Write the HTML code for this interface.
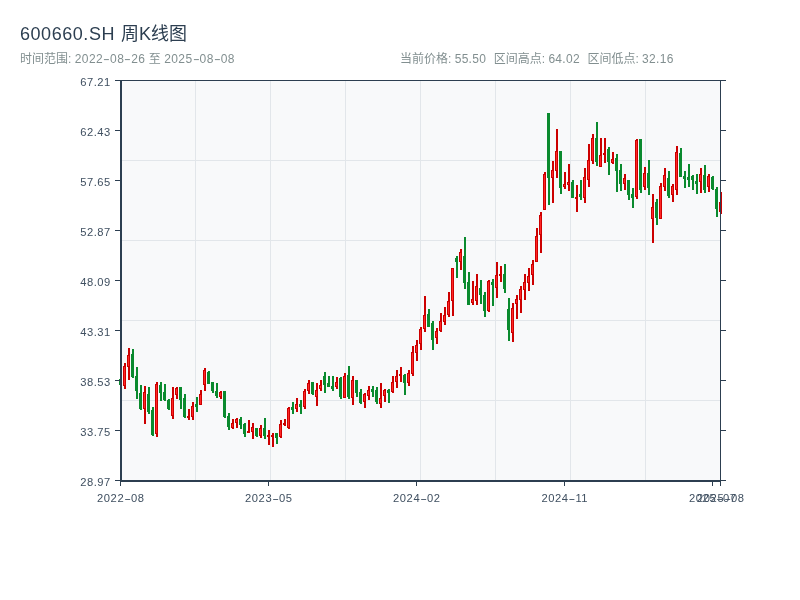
<!DOCTYPE html>
<html lang="zh"><head><meta charset="utf-8"><title>600660.SH 周K线图</title>
<style>
html,body{margin:0;padding:0;background:#fff;}
body{width:800px;height:600px;overflow:hidden;position:relative;font-family:"Liberation Sans","Noto Sans CJK SC",sans-serif;}
.title{position:absolute;left:20px;top:22px;font-size:18px;line-height:24px;color:#2c3e50;white-space:nowrap;}
.title .l{letter-spacing:0.55px;margin-right:1px;}
.sub{position:absolute;left:20px;top:51px;font-size:12px;line-height:16px;color:#828f90;white-space:nowrap;}
.sub .l{letter-spacing:0.45px;}
.sub .h{display:inline-block;width:6.9px;text-align:center;transform:scaleX(1.7);letter-spacing:0;}
.stats{position:absolute;left:400px;top:51px;font-size:12px;line-height:16px;color:#828f90;white-space:nowrap;}
.stats span{margin-right:7.5px;}
.stats span i{font-style:normal;letter-spacing:0.3px;margin-right:0;}
svg{position:absolute;left:0;top:0;}
svg text{font-family:"Liberation Sans","Noto Sans CJK SC",sans-serif;font-size:11.2px;fill:#3f4f60;letter-spacing:0.5px;}
svg text.x{letter-spacing:0.55px;}
svg text .hy{letter-spacing:0;}
</style></head><body>
<div class="title"><span class="l">600660.SH</span> 周K线图</div>
<div class="sub">时间范围: <span class="l">2022<span class="h">-</span>08<span class="h">-</span>26</span> 至 <span class="l">2025<span class="h">-</span>08<span class="h">-</span>08</span></div>
<div class="stats"><span>当前价格: <i>55.50</i></span><span>区间高点: <i>64.02</i></span><span>区间低点: <i>32.16</i></span></div>
<svg width="800" height="600" viewBox="0 0 800 600" shape-rendering="crispEdges">
<rect x="121" y="81" width="600" height="400" fill="#f8f9fa"/>
<rect x="195" y="81" width="1" height="399" fill="#e2e6ea"/>
<rect x="270" y="81" width="1" height="399" fill="#e2e6ea"/>
<rect x="345" y="81" width="1" height="399" fill="#e2e6ea"/>
<rect x="420" y="81" width="1" height="399" fill="#e2e6ea"/>
<rect x="495" y="81" width="1" height="399" fill="#e2e6ea"/>
<rect x="570" y="81" width="1" height="399" fill="#e2e6ea"/>
<rect x="645" y="81" width="1" height="399" fill="#e2e6ea"/>
<rect x="122" y="160" width="598" height="1" fill="#e2e6ea"/>
<rect x="122" y="240" width="598" height="1" fill="#e2e6ea"/>
<rect x="122" y="320" width="598" height="1" fill="#e2e6ea"/>
<rect x="122" y="400" width="598" height="1" fill="#e2e6ea"/>
<g>
<rect x="120" y="378" width="2" height="8" fill="#0a8a2e"/>
<rect x="119" y="379" width="3" height="6" fill="#0a8a2e"/>
<rect x="124" y="363" width="2" height="26" fill="#cc0000"/>
<rect x="123" y="366.2" width="3" height="19.3" fill="#cc0000"/>
<rect x="124" y="367.2" width="1" height="17.3" fill="#ff2626"/>
<rect x="128" y="348" width="2" height="32" fill="#cc0000"/>
<rect x="127" y="355" width="3" height="12" fill="#cc0000"/>
<rect x="128" y="356" width="1" height="10" fill="#ff2626"/>
<rect x="132" y="349" width="2" height="29" fill="#0a8a2e"/>
<rect x="131" y="354" width="3" height="23" fill="#0a8a2e"/>
<rect x="136" y="367" width="2" height="32" fill="#0a8a2e"/>
<rect x="135" y="376.2" width="3" height="14.8" fill="#0a8a2e"/>
<rect x="140" y="385" width="2" height="25" fill="#0a8a2e"/>
<rect x="139" y="393" width="3" height="16" fill="#0a8a2e"/>
<rect x="144" y="386" width="2" height="38" fill="#cc0000"/>
<rect x="143" y="392" width="3" height="16.5" fill="#cc0000"/>
<rect x="144" y="393" width="1" height="14.5" fill="#ff2626"/>
<rect x="148" y="387" width="2" height="27" fill="#0a8a2e"/>
<rect x="147" y="394" width="3" height="18" fill="#0a8a2e"/>
<rect x="152" y="407" width="2" height="29" fill="#0a8a2e"/>
<rect x="151" y="410" width="3" height="24.5" fill="#0a8a2e"/>
<rect x="156" y="382" width="2" height="55" fill="#cc0000"/>
<rect x="155" y="384.2" width="3" height="49.8" fill="#cc0000"/>
<rect x="156" y="385.2" width="1" height="47.8" fill="#ff2626"/>
<rect x="160" y="382" width="2" height="19" fill="#0a8a2e"/>
<rect x="159" y="385" width="3" height="8" fill="#0a8a2e"/>
<rect x="164" y="384" width="2" height="17" fill="#0a8a2e"/>
<rect x="163" y="392" width="3" height="8" fill="#0a8a2e"/>
<rect x="168" y="399" width="2" height="11" fill="#0a8a2e"/>
<rect x="167" y="400" width="3" height="9" fill="#0a8a2e"/>
<rect x="172" y="387" width="2" height="32" fill="#cc0000"/>
<rect x="171" y="398" width="3" height="17.5" fill="#cc0000"/>
<rect x="172" y="399" width="1" height="15.5" fill="#ff2626"/>
<rect x="176" y="387" width="2" height="12" fill="#cc0000"/>
<rect x="175" y="387.5" width="3" height="7" fill="#cc0000"/>
<rect x="176" y="388.5" width="1" height="5" fill="#ff2626"/>
<rect x="180" y="387" width="2" height="22" fill="#0a8a2e"/>
<rect x="179" y="387.2" width="3" height="12.8" fill="#0a8a2e"/>
<rect x="184" y="394" width="2" height="24" fill="#0a8a2e"/>
<rect x="183" y="398" width="3" height="19" fill="#0a8a2e"/>
<rect x="188" y="409" width="2" height="11" fill="#cc0000"/>
<rect x="187" y="416" width="3" height="2" fill="#cc0000"/>
<rect x="192" y="402" width="2" height="18" fill="#cc0000"/>
<rect x="191" y="406" width="3" height="10.5" fill="#cc0000"/>
<rect x="192" y="407" width="1" height="8.5" fill="#ff2626"/>
<rect x="196" y="397" width="2" height="15" fill="#0a8a2e"/>
<rect x="195" y="404.2" width="3" height="2.8" fill="#0a8a2e"/>
<rect x="200" y="390" width="2" height="15" fill="#cc0000"/>
<rect x="199" y="394" width="3" height="10.5" fill="#cc0000"/>
<rect x="200" y="395" width="1" height="8.5" fill="#ff2626"/>
<rect x="204" y="368" width="2" height="23" fill="#cc0000"/>
<rect x="203" y="369.8" width="3" height="14.7" fill="#cc0000"/>
<rect x="204" y="370.8" width="1" height="12.7" fill="#ff2626"/>
<rect x="208" y="371" width="2" height="13" fill="#0a8a2e"/>
<rect x="207" y="371.8" width="3" height="11.7" fill="#0a8a2e"/>
<rect x="212" y="382" width="2" height="11" fill="#0a8a2e"/>
<rect x="211" y="382.2" width="3" height="8.3" fill="#0a8a2e"/>
<rect x="216" y="383" width="2" height="15" fill="#0a8a2e"/>
<rect x="215" y="391.2" width="3" height="4.3" fill="#0a8a2e"/>
<rect x="220" y="391" width="2" height="8" fill="#cc0000"/>
<rect x="219" y="392" width="3" height="4.5" fill="#cc0000"/>
<rect x="220" y="393" width="1" height="2.5" fill="#ff2626"/>
<rect x="224" y="391" width="2" height="27" fill="#0a8a2e"/>
<rect x="223" y="391.2" width="3" height="25.8" fill="#0a8a2e"/>
<rect x="228" y="413" width="2" height="17" fill="#0a8a2e"/>
<rect x="227" y="416" width="3" height="11" fill="#0a8a2e"/>
<rect x="232" y="419" width="2" height="10" fill="#cc0000"/>
<rect x="231" y="422.8" width="3" height="5.2" fill="#cc0000"/>
<rect x="232" y="423.8" width="1" height="3.2" fill="#ff2626"/>
<rect x="236" y="418" width="2" height="10" fill="#cc0000"/>
<rect x="235" y="419" width="3" height="4" fill="#cc0000"/>
<rect x="236" y="420" width="1" height="2" fill="#ff2626"/>
<rect x="240" y="417" width="2" height="12" fill="#0a8a2e"/>
<rect x="239" y="419" width="3" height="6" fill="#0a8a2e"/>
<rect x="244" y="423" width="2" height="14" fill="#0a8a2e"/>
<rect x="243" y="424" width="3" height="10" fill="#0a8a2e"/>
<rect x="248" y="420" width="2" height="13" fill="#cc0000"/>
<rect x="247" y="431" width="3" height="2" fill="#cc0000"/>
<rect x="252" y="423" width="2" height="16" fill="#cc0000"/>
<rect x="251" y="427" width="3" height="5" fill="#cc0000"/>
<rect x="252" y="428" width="1" height="3" fill="#ff2626"/>
<rect x="256" y="428" width="2" height="9" fill="#0a8a2e"/>
<rect x="255" y="428.2" width="3" height="7.8" fill="#0a8a2e"/>
<rect x="260" y="425" width="2" height="13" fill="#cc0000"/>
<rect x="259" y="428" width="3" height="7.5" fill="#cc0000"/>
<rect x="260" y="429" width="1" height="5.5" fill="#ff2626"/>
<rect x="264" y="418" width="2" height="21" fill="#0a8a2e"/>
<rect x="263" y="428" width="3" height="8" fill="#0a8a2e"/>
<rect x="268" y="430" width="2" height="15" fill="#cc0000"/>
<rect x="267" y="435" width="3" height="1.5" fill="#cc0000"/>
<rect x="272" y="433" width="2" height="14" fill="#cc0000"/>
<rect x="271" y="435" width="3" height="1.5" fill="#cc0000"/>
<rect x="276" y="433" width="2" height="11" fill="#0a8a2e"/>
<rect x="275" y="433.2" width="3" height="4.8" fill="#0a8a2e"/>
<rect x="280" y="420" width="2" height="18" fill="#cc0000"/>
<rect x="279" y="424" width="3" height="12.5" fill="#cc0000"/>
<rect x="280" y="425" width="1" height="10.5" fill="#ff2626"/>
<rect x="284" y="419" width="2" height="7" fill="#cc0000"/>
<rect x="283" y="423" width="3" height="2" fill="#cc0000"/>
<rect x="288" y="407" width="2" height="22" fill="#cc0000"/>
<rect x="287" y="408" width="3" height="19.5" fill="#cc0000"/>
<rect x="288" y="409" width="1" height="17.5" fill="#ff2626"/>
<rect x="292" y="402" width="2" height="12" fill="#0a8a2e"/>
<rect x="291" y="407" width="3" height="3" fill="#0a8a2e"/>
<rect x="296" y="398" width="2" height="14" fill="#cc0000"/>
<rect x="295" y="404" width="3" height="4.5" fill="#cc0000"/>
<rect x="296" y="405" width="1" height="2.5" fill="#ff2626"/>
<rect x="300" y="400" width="2" height="14" fill="#0a8a2e"/>
<rect x="299" y="404" width="3" height="3" fill="#0a8a2e"/>
<rect x="304" y="389" width="2" height="20" fill="#cc0000"/>
<rect x="303" y="391" width="3" height="15.5" fill="#cc0000"/>
<rect x="304" y="392" width="1" height="13.5" fill="#ff2626"/>
<rect x="308" y="380" width="2" height="14" fill="#cc0000"/>
<rect x="307" y="383" width="3" height="8" fill="#cc0000"/>
<rect x="308" y="384" width="1" height="6" fill="#ff2626"/>
<rect x="312" y="382" width="2" height="13" fill="#0a8a2e"/>
<rect x="311" y="382.2" width="3" height="11.8" fill="#0a8a2e"/>
<rect x="316" y="383" width="2" height="23" fill="#cc0000"/>
<rect x="315" y="389.5" width="3" height="7" fill="#cc0000"/>
<rect x="316" y="390.5" width="1" height="5" fill="#ff2626"/>
<rect x="320" y="380" width="2" height="11" fill="#cc0000"/>
<rect x="319" y="385" width="3" height="3.5" fill="#cc0000"/>
<rect x="320" y="386" width="1" height="1.5" fill="#ff2626"/>
<rect x="324" y="372" width="2" height="21" fill="#0a8a2e"/>
<rect x="323" y="376" width="3" height="8.5" fill="#0a8a2e"/>
<rect x="328" y="376" width="2" height="11" fill="#0a8a2e"/>
<rect x="327" y="383" width="3" height="3.5" fill="#0a8a2e"/>
<rect x="332" y="376" width="2" height="15" fill="#0a8a2e"/>
<rect x="331" y="386" width="3" height="2.5" fill="#0a8a2e"/>
<rect x="336" y="377" width="2" height="12" fill="#cc0000"/>
<rect x="335" y="381.5" width="3" height="5" fill="#cc0000"/>
<rect x="336" y="382.5" width="1" height="3" fill="#ff2626"/>
<rect x="340" y="377" width="2" height="22" fill="#0a8a2e"/>
<rect x="339" y="378" width="3" height="18.5" fill="#0a8a2e"/>
<rect x="344" y="373" width="2" height="25" fill="#cc0000"/>
<rect x="343" y="376" width="3" height="21.5" fill="#cc0000"/>
<rect x="344" y="377" width="1" height="19.5" fill="#ff2626"/>
<rect x="348" y="366" width="2" height="33" fill="#0a8a2e"/>
<rect x="347" y="375" width="3" height="22" fill="#0a8a2e"/>
<rect x="352" y="376" width="2" height="29" fill="#cc0000"/>
<rect x="351" y="380" width="3" height="17.5" fill="#cc0000"/>
<rect x="352" y="381" width="1" height="15.5" fill="#ff2626"/>
<rect x="356" y="380" width="2" height="17" fill="#0a8a2e"/>
<rect x="355" y="380.2" width="3" height="12.3" fill="#0a8a2e"/>
<rect x="360" y="389" width="2" height="15" fill="#0a8a2e"/>
<rect x="359" y="392" width="3" height="11" fill="#0a8a2e"/>
<rect x="364" y="393" width="2" height="15" fill="#cc0000"/>
<rect x="363" y="393.5" width="3" height="8" fill="#cc0000"/>
<rect x="364" y="394.5" width="1" height="6" fill="#ff2626"/>
<rect x="368" y="386" width="2" height="14" fill="#cc0000"/>
<rect x="367" y="390" width="3" height="5.5" fill="#cc0000"/>
<rect x="368" y="391" width="1" height="3.5" fill="#ff2626"/>
<rect x="372" y="386" width="2" height="11" fill="#0a8a2e"/>
<rect x="371" y="389" width="3" height="2.5" fill="#0a8a2e"/>
<rect x="376" y="387" width="2" height="17" fill="#0a8a2e"/>
<rect x="375" y="390" width="3" height="11.5" fill="#0a8a2e"/>
<rect x="380" y="383" width="2" height="25" fill="#cc0000"/>
<rect x="379" y="398" width="3" height="5.5" fill="#cc0000"/>
<rect x="380" y="399" width="1" height="3.5" fill="#ff2626"/>
<rect x="384" y="389" width="2" height="13" fill="#cc0000"/>
<rect x="383" y="390" width="3" height="5.5" fill="#cc0000"/>
<rect x="384" y="391" width="1" height="3.5" fill="#ff2626"/>
<rect x="388" y="389" width="2" height="14" fill="#0a8a2e"/>
<rect x="387" y="390" width="3" height="3" fill="#0a8a2e"/>
<rect x="392" y="376" width="2" height="17" fill="#cc0000"/>
<rect x="391" y="382" width="3" height="9.5" fill="#cc0000"/>
<rect x="392" y="383" width="1" height="7.5" fill="#ff2626"/>
<rect x="396" y="370" width="2" height="18" fill="#cc0000"/>
<rect x="395" y="375.5" width="3" height="6" fill="#cc0000"/>
<rect x="396" y="376.5" width="1" height="4" fill="#ff2626"/>
<rect x="400" y="367" width="2" height="15" fill="#cc0000"/>
<rect x="399" y="374" width="3" height="1.5" fill="#cc0000"/>
<rect x="404" y="374" width="2" height="21" fill="#0a8a2e"/>
<rect x="403" y="375" width="3" height="7.5" fill="#0a8a2e"/>
<rect x="408" y="370" width="2" height="16" fill="#cc0000"/>
<rect x="407" y="373" width="3" height="9.5" fill="#cc0000"/>
<rect x="408" y="374" width="1" height="7.5" fill="#ff2626"/>
<rect x="412" y="346" width="2" height="30" fill="#cc0000"/>
<rect x="411" y="352" width="3" height="21.5" fill="#cc0000"/>
<rect x="412" y="353" width="1" height="19.5" fill="#ff2626"/>
<rect x="416" y="340" width="2" height="21" fill="#cc0000"/>
<rect x="415" y="345" width="3" height="7.5" fill="#cc0000"/>
<rect x="416" y="346" width="1" height="5.5" fill="#ff2626"/>
<rect x="420" y="327" width="2" height="23" fill="#cc0000"/>
<rect x="419" y="329" width="3" height="14.5" fill="#cc0000"/>
<rect x="420" y="330" width="1" height="12.5" fill="#ff2626"/>
<rect x="424" y="296" width="2" height="36" fill="#cc0000"/>
<rect x="423" y="315" width="3" height="14" fill="#cc0000"/>
<rect x="424" y="316" width="1" height="12" fill="#ff2626"/>
<rect x="428" y="309" width="2" height="18" fill="#0a8a2e"/>
<rect x="427" y="314" width="3" height="12.5" fill="#0a8a2e"/>
<rect x="432" y="321" width="2" height="29" fill="#0a8a2e"/>
<rect x="431" y="323" width="3" height="16.5" fill="#0a8a2e"/>
<rect x="436" y="328" width="2" height="16" fill="#cc0000"/>
<rect x="435" y="331" width="3" height="6.5" fill="#cc0000"/>
<rect x="436" y="332" width="1" height="4.5" fill="#ff2626"/>
<rect x="440" y="313" width="2" height="19" fill="#cc0000"/>
<rect x="439" y="321" width="3" height="9.5" fill="#cc0000"/>
<rect x="440" y="322" width="1" height="7.5" fill="#ff2626"/>
<rect x="444" y="307" width="2" height="18" fill="#cc0000"/>
<rect x="443" y="314.5" width="3" height="7" fill="#cc0000"/>
<rect x="444" y="315.5" width="1" height="5" fill="#ff2626"/>
<rect x="448" y="292" width="2" height="25" fill="#cc0000"/>
<rect x="447" y="301" width="3" height="13.5" fill="#cc0000"/>
<rect x="448" y="302" width="1" height="11.5" fill="#ff2626"/>
<rect x="452" y="268" width="2" height="48" fill="#cc0000"/>
<rect x="451" y="268.2" width="3" height="32.3" fill="#cc0000"/>
<rect x="452" y="269.2" width="1" height="30.3" fill="#ff2626"/>
<rect x="456" y="256" width="2" height="22" fill="#0a8a2e"/>
<rect x="455" y="258" width="3" height="4" fill="#0a8a2e"/>
<rect x="460" y="249" width="2" height="21" fill="#cc0000"/>
<rect x="459" y="252" width="3" height="10" fill="#cc0000"/>
<rect x="460" y="253" width="1" height="8" fill="#ff2626"/>
<rect x="464" y="237" width="2" height="52" fill="#0a8a2e"/>
<rect x="463" y="256" width="3" height="27" fill="#0a8a2e"/>
<rect x="468" y="272" width="2" height="33" fill="#0a8a2e"/>
<rect x="467" y="282" width="3" height="22.5" fill="#0a8a2e"/>
<rect x="472" y="281" width="2" height="24" fill="#cc0000"/>
<rect x="471" y="299" width="3" height="3.5" fill="#cc0000"/>
<rect x="472" y="300" width="1" height="1.5" fill="#ff2626"/>
<rect x="476" y="274" width="2" height="31" fill="#cc0000"/>
<rect x="475" y="286" width="3" height="15" fill="#cc0000"/>
<rect x="476" y="287" width="1" height="13" fill="#ff2626"/>
<rect x="480" y="280" width="2" height="24" fill="#0a8a2e"/>
<rect x="479" y="288" width="3" height="6.5" fill="#0a8a2e"/>
<rect x="484" y="292" width="2" height="25" fill="#0a8a2e"/>
<rect x="483" y="295" width="3" height="15.5" fill="#0a8a2e"/>
<rect x="488" y="280" width="2" height="32" fill="#cc0000"/>
<rect x="487" y="281" width="3" height="29.5" fill="#cc0000"/>
<rect x="488" y="282" width="1" height="27.5" fill="#ff2626"/>
<rect x="492" y="279" width="2" height="27" fill="#0a8a2e"/>
<rect x="491" y="282" width="3" height="3" fill="#0a8a2e"/>
<rect x="496" y="262" width="2" height="36" fill="#cc0000"/>
<rect x="495" y="275" width="3" height="13" fill="#cc0000"/>
<rect x="496" y="276" width="1" height="11" fill="#ff2626"/>
<rect x="500" y="266" width="2" height="16" fill="#cc0000"/>
<rect x="499" y="274" width="3" height="2" fill="#cc0000"/>
<rect x="504" y="264" width="2" height="29" fill="#0a8a2e"/>
<rect x="503" y="274" width="3" height="15" fill="#0a8a2e"/>
<rect x="508" y="298" width="2" height="43" fill="#0a8a2e"/>
<rect x="507" y="309" width="3" height="20.5" fill="#0a8a2e"/>
<rect x="512" y="303" width="2" height="39" fill="#cc0000"/>
<rect x="511" y="307.5" width="3" height="25" fill="#cc0000"/>
<rect x="512" y="308.5" width="1" height="23" fill="#ff2626"/>
<rect x="516" y="295" width="2" height="24" fill="#cc0000"/>
<rect x="515" y="298.5" width="3" height="5" fill="#cc0000"/>
<rect x="516" y="299.5" width="1" height="3" fill="#ff2626"/>
<rect x="520" y="286" width="2" height="27" fill="#cc0000"/>
<rect x="519" y="288.5" width="3" height="11" fill="#cc0000"/>
<rect x="520" y="289.5" width="1" height="9" fill="#ff2626"/>
<rect x="524" y="274" width="2" height="26" fill="#cc0000"/>
<rect x="523" y="282" width="3" height="7.5" fill="#cc0000"/>
<rect x="524" y="283" width="1" height="5.5" fill="#ff2626"/>
<rect x="528" y="268" width="2" height="23" fill="#cc0000"/>
<rect x="527" y="275.5" width="3" height="7" fill="#cc0000"/>
<rect x="528" y="276.5" width="1" height="5" fill="#ff2626"/>
<rect x="532" y="260" width="2" height="25" fill="#cc0000"/>
<rect x="531" y="264" width="3" height="10.5" fill="#cc0000"/>
<rect x="532" y="265" width="1" height="8.5" fill="#ff2626"/>
<rect x="536" y="228" width="2" height="34" fill="#cc0000"/>
<rect x="535" y="236" width="3" height="26" fill="#cc0000"/>
<rect x="536" y="237" width="1" height="24" fill="#ff2626"/>
<rect x="540" y="212" width="2" height="41" fill="#cc0000"/>
<rect x="539" y="215" width="3" height="20" fill="#cc0000"/>
<rect x="540" y="216" width="1" height="18" fill="#ff2626"/>
<rect x="544" y="172" width="2" height="38" fill="#cc0000"/>
<rect x="543" y="174" width="3" height="36" fill="#cc0000"/>
<rect x="544" y="175" width="1" height="34" fill="#ff2626"/>
<rect x="548" y="113" width="2" height="92" fill="#0a8a2e"/>
<rect x="547" y="113" width="3" height="65" fill="#0a8a2e"/>
<rect x="552" y="161" width="2" height="42" fill="#cc0000"/>
<rect x="551" y="170" width="3" height="8" fill="#cc0000"/>
<rect x="552" y="171" width="1" height="6" fill="#ff2626"/>
<rect x="556" y="129" width="2" height="49" fill="#cc0000"/>
<rect x="555" y="151" width="3" height="19.5" fill="#cc0000"/>
<rect x="556" y="152" width="1" height="17.5" fill="#ff2626"/>
<rect x="560" y="151" width="2" height="43" fill="#0a8a2e"/>
<rect x="559" y="151" width="3" height="37" fill="#0a8a2e"/>
<rect x="564" y="172" width="2" height="17" fill="#cc0000"/>
<rect x="563" y="184" width="3" height="3" fill="#cc0000"/>
<rect x="564" y="185" width="1" height="1" fill="#ff2626"/>
<rect x="568" y="164" width="2" height="27" fill="#cc0000"/>
<rect x="567" y="182.2" width="3" height="2.8" fill="#cc0000"/>
<rect x="568" y="183.2" width="1" height="0.8" fill="#ff2626"/>
<rect x="572" y="180" width="2" height="18" fill="#0a8a2e"/>
<rect x="571" y="182" width="3" height="16" fill="#0a8a2e"/>
<rect x="576" y="185" width="2" height="27" fill="#cc0000"/>
<rect x="575" y="197" width="3" height="2" fill="#cc0000"/>
<rect x="580" y="180" width="2" height="20" fill="#0a8a2e"/>
<rect x="579" y="194" width="3" height="3" fill="#0a8a2e"/>
<rect x="584" y="168" width="2" height="35" fill="#cc0000"/>
<rect x="583" y="177" width="3" height="21" fill="#cc0000"/>
<rect x="584" y="178" width="1" height="19" fill="#ff2626"/>
<rect x="588" y="144" width="2" height="43" fill="#cc0000"/>
<rect x="587" y="160" width="3" height="19.5" fill="#cc0000"/>
<rect x="588" y="161" width="1" height="17.5" fill="#ff2626"/>
<rect x="592" y="134" width="2" height="30" fill="#cc0000"/>
<rect x="591" y="138" width="3" height="22.5" fill="#cc0000"/>
<rect x="592" y="139" width="1" height="20.5" fill="#ff2626"/>
<rect x="596" y="122" width="2" height="44" fill="#0a8a2e"/>
<rect x="595" y="138" width="3" height="23.5" fill="#0a8a2e"/>
<rect x="600" y="138" width="2" height="29" fill="#cc0000"/>
<rect x="599" y="155" width="3" height="11.5" fill="#cc0000"/>
<rect x="600" y="156" width="1" height="9.5" fill="#ff2626"/>
<rect x="604" y="138" width="2" height="25" fill="#cc0000"/>
<rect x="603" y="153" width="3" height="1.5" fill="#cc0000"/>
<rect x="608" y="147" width="2" height="28" fill="#0a8a2e"/>
<rect x="607" y="149" width="3" height="12.5" fill="#0a8a2e"/>
<rect x="612" y="152" width="2" height="12" fill="#cc0000"/>
<rect x="611" y="159" width="3" height="3.5" fill="#cc0000"/>
<rect x="612" y="160" width="1" height="1.5" fill="#ff2626"/>
<rect x="616" y="154" width="2" height="38" fill="#0a8a2e"/>
<rect x="615" y="158" width="3" height="12.5" fill="#0a8a2e"/>
<rect x="620" y="164" width="2" height="27" fill="#0a8a2e"/>
<rect x="619" y="170" width="3" height="14" fill="#0a8a2e"/>
<rect x="624" y="174" width="2" height="16" fill="#cc0000"/>
<rect x="623" y="178" width="3" height="5.5" fill="#cc0000"/>
<rect x="624" y="179" width="1" height="3.5" fill="#ff2626"/>
<rect x="628" y="180" width="2" height="20" fill="#0a8a2e"/>
<rect x="627" y="180.2" width="3" height="14.8" fill="#0a8a2e"/>
<rect x="632" y="188" width="2" height="20" fill="#0a8a2e"/>
<rect x="631" y="194" width="3" height="3.5" fill="#0a8a2e"/>
<rect x="636" y="139" width="2" height="60" fill="#cc0000"/>
<rect x="635" y="140" width="3" height="56.5" fill="#cc0000"/>
<rect x="636" y="141" width="1" height="54.5" fill="#ff2626"/>
<rect x="640" y="139" width="2" height="54" fill="#0a8a2e"/>
<rect x="639" y="139" width="3" height="51" fill="#0a8a2e"/>
<rect x="644" y="167" width="2" height="23" fill="#cc0000"/>
<rect x="643" y="173" width="3" height="13.5" fill="#cc0000"/>
<rect x="644" y="174" width="1" height="11.5" fill="#ff2626"/>
<rect x="648" y="160" width="2" height="35" fill="#0a8a2e"/>
<rect x="647" y="173" width="3" height="15" fill="#0a8a2e"/>
<rect x="652" y="194" width="2" height="49" fill="#cc0000"/>
<rect x="651" y="207" width="3" height="12" fill="#cc0000"/>
<rect x="652" y="208" width="1" height="10" fill="#ff2626"/>
<rect x="656" y="199" width="2" height="26" fill="#0a8a2e"/>
<rect x="655" y="202" width="3" height="15.5" fill="#0a8a2e"/>
<rect x="660" y="183" width="2" height="36" fill="#cc0000"/>
<rect x="659" y="186" width="3" height="32.5" fill="#cc0000"/>
<rect x="660" y="187" width="1" height="30.5" fill="#ff2626"/>
<rect x="664" y="168" width="2" height="23" fill="#cc0000"/>
<rect x="663" y="175" width="3" height="11.5" fill="#cc0000"/>
<rect x="664" y="176" width="1" height="9.5" fill="#ff2626"/>
<rect x="668" y="171" width="2" height="27" fill="#0a8a2e"/>
<rect x="667" y="178" width="3" height="17.5" fill="#0a8a2e"/>
<rect x="672" y="184" width="2" height="18" fill="#cc0000"/>
<rect x="671" y="186" width="3" height="8.5" fill="#cc0000"/>
<rect x="672" y="187" width="1" height="6.5" fill="#ff2626"/>
<rect x="676" y="146" width="2" height="49" fill="#cc0000"/>
<rect x="675" y="152" width="3" height="37.5" fill="#cc0000"/>
<rect x="676" y="153" width="1" height="35.5" fill="#ff2626"/>
<rect x="680" y="148" width="2" height="29" fill="#0a8a2e"/>
<rect x="679" y="153" width="3" height="24" fill="#0a8a2e"/>
<rect x="684" y="171" width="2" height="17" fill="#0a8a2e"/>
<rect x="683" y="176" width="3" height="2.5" fill="#0a8a2e"/>
<rect x="688" y="164" width="2" height="23" fill="#0a8a2e"/>
<rect x="687" y="177" width="3" height="2.5" fill="#0a8a2e"/>
<rect x="692" y="175" width="2" height="15" fill="#0a8a2e"/>
<rect x="691" y="176" width="3" height="3.5" fill="#0a8a2e"/>
<rect x="696" y="174" width="2" height="20" fill="#0a8a2e"/>
<rect x="695" y="181" width="3" height="2.5" fill="#0a8a2e"/>
<rect x="700" y="168" width="2" height="25" fill="#cc0000"/>
<rect x="699" y="174" width="3" height="7.5" fill="#cc0000"/>
<rect x="700" y="175" width="1" height="5.5" fill="#ff2626"/>
<rect x="704" y="165" width="2" height="28" fill="#0a8a2e"/>
<rect x="703" y="175" width="3" height="14.5" fill="#0a8a2e"/>
<rect x="708" y="174" width="2" height="18" fill="#cc0000"/>
<rect x="707" y="176" width="3" height="10.5" fill="#cc0000"/>
<rect x="708" y="177" width="1" height="8.5" fill="#ff2626"/>
<rect x="712" y="176" width="2" height="14" fill="#0a8a2e"/>
<rect x="711" y="177" width="3" height="11.5" fill="#0a8a2e"/>
<rect x="716" y="187" width="2" height="30" fill="#0a8a2e"/>
<rect x="715" y="189" width="3" height="19.5" fill="#0a8a2e"/>
<rect x="720" y="192" width="2" height="22" fill="#cc0000"/>
<rect x="719" y="202" width="3" height="10" fill="#cc0000"/>
<rect x="720" y="203" width="1" height="8" fill="#ff2626"/>
</g>
<rect x="120" y="80" width="601" height="1" fill="#2c3e50"/>
<rect x="720" y="80" width="1" height="402" fill="#2c3e50"/>
<rect x="120" y="80" width="2" height="402" fill="#2c3e50"/>
<rect x="120" y="480" width="601" height="2" fill="#2c3e50"/>
<rect x="115" y="80" width="6" height="1" fill="#2c3e50"/><rect x="721" y="80" width="5" height="1" fill="#2c3e50"/><rect x="115" y="130" width="6" height="1" fill="#2c3e50"/><rect x="721" y="130" width="5" height="1" fill="#2c3e50"/><rect x="115" y="180" width="6" height="1" fill="#2c3e50"/><rect x="721" y="180" width="5" height="1" fill="#2c3e50"/><rect x="115" y="230" width="6" height="1" fill="#2c3e50"/><rect x="721" y="230" width="5" height="1" fill="#2c3e50"/><rect x="115" y="280" width="6" height="1" fill="#2c3e50"/><rect x="721" y="280" width="5" height="1" fill="#2c3e50"/><rect x="115" y="330" width="6" height="1" fill="#2c3e50"/><rect x="721" y="330" width="5" height="1" fill="#2c3e50"/><rect x="115" y="380" width="6" height="1" fill="#2c3e50"/><rect x="721" y="380" width="5" height="1" fill="#2c3e50"/><rect x="115" y="430" width="6" height="1" fill="#2c3e50"/><rect x="721" y="430" width="5" height="1" fill="#2c3e50"/><rect x="115" y="480" width="6" height="1" fill="#2c3e50"/><rect x="721" y="480" width="5" height="1" fill="#2c3e50"/><rect x="120" y="481" width="1" height="5" fill="#2c3e50"/><rect x="268" y="481" width="1" height="5" fill="#2c3e50"/><rect x="416" y="481" width="1" height="5" fill="#2c3e50"/><rect x="564" y="481" width="1" height="5" fill="#2c3e50"/><rect x="712" y="481" width="1" height="5" fill="#2c3e50"/><rect x="720" y="481" width="1" height="5" fill="#2c3e50"/>
<g shape-rendering="auto">
<text x="110.8" y="85.5" text-anchor="end">67.21</text><text x="110.8" y="135.5" text-anchor="end">62.43</text><text x="110.8" y="185.5" text-anchor="end">57.65</text><text x="110.8" y="235.5" text-anchor="end">52.87</text><text x="110.8" y="285.5" text-anchor="end">48.09</text><text x="110.8" y="335.5" text-anchor="end">43.31</text><text x="110.8" y="385.5" text-anchor="end">38.53</text><text x="110.8" y="435.5" text-anchor="end">33.75</text><text x="110.8" y="485.5" text-anchor="end">28.97</text>
</g>
<g shape-rendering="auto" class="xl">
<text class="x" x="120.8" y="501.5" text-anchor="middle">2022<tspan class="hy" textLength="6.8" lengthAdjust="spacingAndGlyphs">-</tspan>08</text><text class="x" x="268.8" y="501.5" text-anchor="middle">2023<tspan class="hy" textLength="6.8" lengthAdjust="spacingAndGlyphs">-</tspan>05</text><text class="x" x="416.8" y="501.5" text-anchor="middle">2024<tspan class="hy" textLength="6.8" lengthAdjust="spacingAndGlyphs">-</tspan>02</text><text class="x" x="564.8" y="501.5" text-anchor="middle">2024<tspan class="hy" textLength="6.8" lengthAdjust="spacingAndGlyphs">-</tspan>11</text><text class="x" x="712.8" y="501.5" text-anchor="middle">2025<tspan class="hy" textLength="6.8" lengthAdjust="spacingAndGlyphs">-</tspan>07</text><text class="x" x="720.8" y="501.5" text-anchor="middle">2025<tspan class="hy" textLength="6.8" lengthAdjust="spacingAndGlyphs">-</tspan>08</text>
</g>
</svg>
</body></html>
